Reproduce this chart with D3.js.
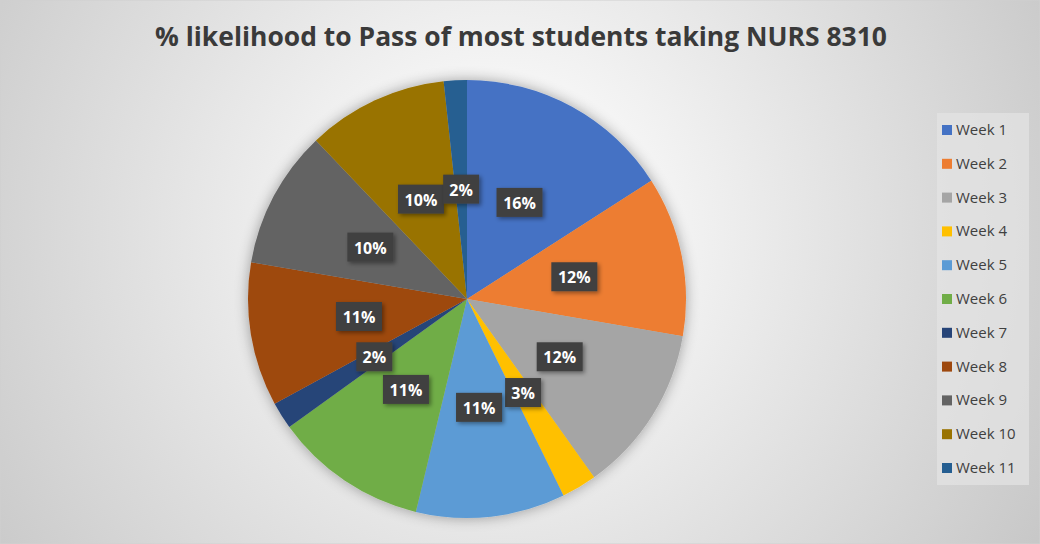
<!DOCTYPE html>
<html>
<head>
<meta charset="utf-8">
<style>
  body { margin: 0; }
  svg { display: block; }
</style>
</head>
<body>
<script src="https://d3js.org/d3.v7.min.js"></script>
<script>
  // chart data
  var weeks = ['Week 1', 'Week 2', 'Week 3', 'Week 4', 'Week 5', 'Week 6',
               'Week 7', 'Week 8', 'Week 9', 'Week 10', 'Week 11'];
  var shares = [15.9, 11.8, 12.4, 2.6, 11.0, 11.3, 2.0, 10.6, 10.2, 10.4, 1.7];
  var colors = ['#4472C4', '#ED7D31', '#A5A5A5', '#FFC000', '#5B9BD5', '#70AD47',
                '#264478', '#9E480E', '#636363', '#997300', '#255E91'];
  var title = '% likelihood to Pass of most students taking NURS 8310';

  var W = 1040, H = 544;
  var cx = 467, cy = 299, R = 219;

  var svg = d3.select('body').append('svg')
    .attr('width', W)
    .attr('height', H);

  var defs = svg.append('defs');

  var bg = defs.append('radialGradient')
    .attr('id', 'bg')
    .attr('gradientUnits', 'userSpaceOnUse')
    .attr('cx', 500).attr('cy', 230).attr('r', 640);
  bg.append('stop').attr('offset', '0%').attr('stop-color', '#ffffff');
  bg.append('stop').attr('offset', '25%').attr('stop-color', '#f4f4f4');
  bg.append('stop').attr('offset', '100%').attr('stop-color', '#c6c6c6');

  var glow = defs.append('filter').attr('id', 'glow')
    .attr('x', '-20%').attr('y', '-20%').attr('width', '140%').attr('height', '140%');
  glow.append('feGaussianBlur').attr('in', 'SourceAlpha').attr('stdDeviation', 7).attr('result', 'b');
  glow.append('feComponentTransfer').attr('in', 'b').attr('result', 'c')
    .append('feFuncA').attr('type', 'linear').attr('slope', 0.35);
  var gm = glow.append('feMerge');
  gm.append('feMergeNode').attr('in', 'c');
  gm.append('feMergeNode').attr('in', 'SourceGraphic');

  var shadow = defs.append('filter').attr('id', 'shadow')
    .attr('x', '-30%').attr('y', '-30%').attr('width', '170%').attr('height', '170%');
  shadow.append('feDropShadow').attr('dx', 2).attr('dy', 2).attr('stdDeviation', 2)
    .attr('flood-color', '#000').attr('flood-opacity', 0.4);

  svg.append('rect')
    .attr('width', W).attr('height', H)
    .attr('fill', 'url(#bg)')
    .attr('stroke', '#d0d0d0');

  svg.append('text')
    .attr('x', 521).attr('y', 46)
    .attr('text-anchor', 'middle')
    .attr('font-family', 'Open Sans, sans-serif')
    .attr('font-weight', 700)
    .attr('font-size', 27)
    .attr('fill', '#3a3a3a')
    .attr('textLength', 732)
    .attr('lengthAdjust', 'spacingAndGlyphs')
    .text(title);

  var total = d3.sum(shares);
  var pie = d3.pie().sort(null).value(d => d)(shares);
  var arc = d3.arc().innerRadius(0).outerRadius(R);

  var g = svg.append('g').attr('transform', 'translate(' + cx + ',' + cy + ')');

  g.append('g')
    .attr('filter', 'url(#glow)')
    .selectAll('path')
    .data(pie)
    .join('path')
      .attr('d', arc)
      .attr('fill', (d, i) => colors[i]);

  var labels = g.append('g')
    .selectAll('g')
    .data(pie)
    .join('g')
      .attr('transform', d => 'translate(' + arc.centroid(d) + ')');

  labels.each(function(d) {
    var txt = Math.round(d.value / total * 100) + '%';
    var w = txt.length > 2 ? 46 : 36;
    var sel = d3.select(this);
    sel.append('rect')
      .attr('x', -w / 2).attr('y', -15)
      .attr('width', w).attr('height', 29)
      .attr('fill', '#404040')
      .attr('filter', 'url(#shadow)');
    sel.append('text')
      .attr('text-anchor', 'middle')
      .attr('y', 6)
      .attr('font-family', 'Open Sans, sans-serif')
      .attr('font-weight', 700)
      .attr('font-size', 16)
      .attr('fill', '#ffffff')
      .text(txt);
  });

  // legend
  var legend = svg.append('g').attr('transform', 'translate(937,113)');
  legend.append('rect')
    .attr('width', 92).attr('height', 372)
    .attr('fill', '#e4e4e4')
    .attr('fill-opacity', 0.7);

  var items = legend.selectAll('g.item')
    .data(weeks)
    .join('g')
      .attr('class', 'item')
      .attr('transform', (d, i) => 'translate(0,' + (17 + i * 33.8) + ')');
  items.append('rect')
    .attr('x', 5).attr('y', -5)
    .attr('width', 10).attr('height', 10)
    .attr('fill', (d, i) => colors[i]);
  items.append('text')
    .attr('x', 19).attr('y', 5)
    .attr('font-family', 'Open Sans, sans-serif')
    .attr('font-size', 15)
    .attr('fill', '#404040')
    .text(d => d);
</script>
</body>
</html>
